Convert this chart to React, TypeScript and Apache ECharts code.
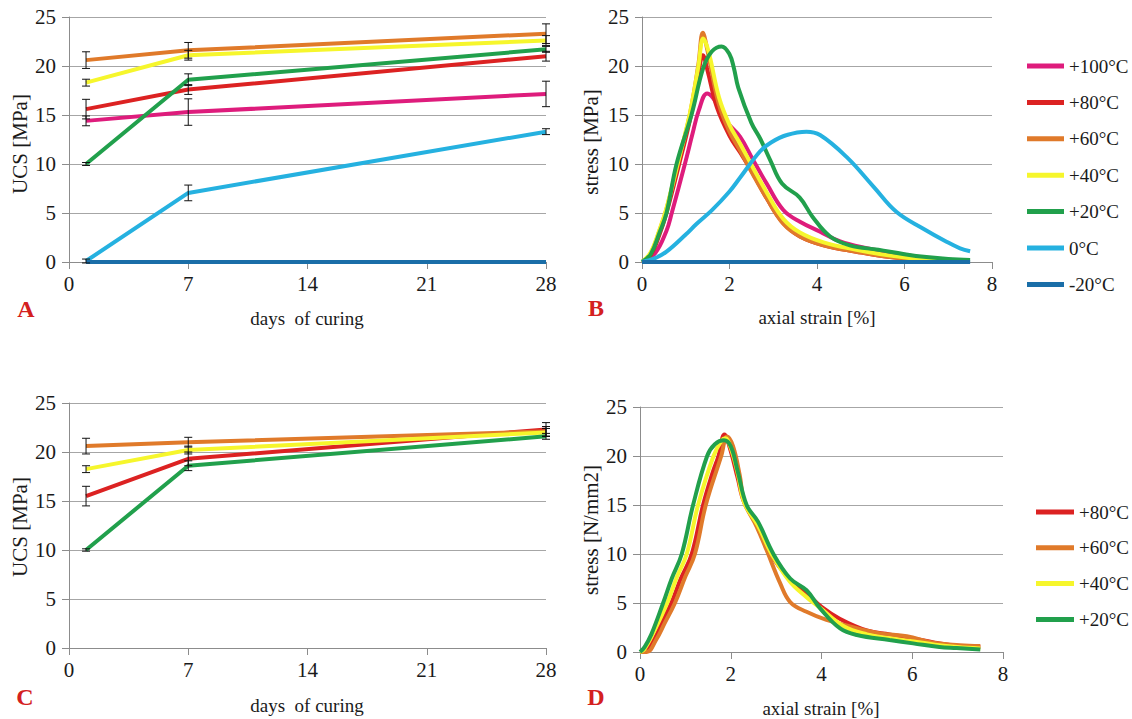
import React, { useEffect, useRef } from "react";
import * as echarts from "echarts";

// ---------- data ----------
const DAYS = [1, 7, 28];
const TEMPS_B = ["+100°C", "+80°C", "+60°C", "+40°C", "+20°C", "0°C", "-20°C"];
const TEMPS_D = ["+80°C", "+60°C", "+40°C", "+20°C"];

// Panel A: UCS vs days of curing (means and error half-widths)
const A_100 = [14.4, 15.3, 17.15];
const A_100_ERR = [0.5, 1.35, 1.3];
const A_80 = [15.6, 17.6, 21.0];
const A_80_ERR = [1.0, 0.5, 0.5];
const A_60 = [20.6, 21.6, 23.3];
const A_60_ERR = [0.85, 0.8, 1.0];
const A_40 = [18.3, 21.1, 22.6];
const A_40_ERR = [0.35, 0.5, 0.5];
const A_20 = [10.0, 18.6, 21.7];
const A_20_ERR = [0.15, 0.6, 0.3];
const A_0 = [0.1, 7.05, 13.3];
const A_0_ERR = [0.2, 0.8, 0.3];
const A_M20 = [0, 0, 0];

// Panel C
const C_80 = [15.5, 19.3, 22.3];
const C_80_ERR = [1.0, 0.7, 0.7];
const C_60 = [20.6, 21.0, 22.1];
const C_60_ERR = [0.8, 0.5, 0.5];
const C_40 = [18.25, 20.2, 22.0];
const C_40_ERR = [0.35, 0.4, 0.4];
const C_20 = [10.0, 18.6, 21.6];
const C_20_ERR = [0.12, 0.5, 0.3];

// Panel B: stress [MPa] vs axial strain [%]
const B_100 = [[0,0],[0.3,0.9],[0.56,3.2],[0.68,5],[0.98,10],[1.15,13],[1.3,15.5],[1.49,17.2],[1.74,16.0],[1.94,14.3],[2.24,12.8],[2.54,10.4],[2.85,8.0],[3.23,5.3],[3.61,4.1],[4.07,3.1],[4.53,2.1],[5.14,1.4],[5.75,0.9],[6.5,0.4],[7.2,0.1]];
const B_80 = [[0,0],[0.2,0.7],[0.4,2.8],[0.56,5],[0.85,10],[1.12,15],[1.3,19.5],[1.39,21.1],[1.5,19.5],[1.71,15.8],[2.01,12.8],[2.24,11.2],[2.54,9.0],[2.85,6.5],[3.23,3.95],[3.61,2.6],[4.15,1.7],[4.9,1.05],[5.67,0.5],[6.5,0.15],[7.0,0.05]];
const B_60 = [[0,0],[0.2,0.9],[0.4,3.2],[0.56,5.4],[0.83,10.2],[1.1,15.2],[1.29,20.2],[1.39,23.4],[1.5,21.5],[1.75,16.2],[2.0,13.3],[2.24,11.4],[2.54,8.9],[2.85,6.5],[3.23,3.9],[3.61,2.6],[4.15,1.7],[4.9,1.05],[5.67,0.5],[6.5,0.15],[7.0,0.05]];
const B_40 = [[0,0],[0.2,1.0],[0.4,3.3],[0.56,5.5],[0.83,10.3],[1.1,15.3],[1.29,20.0],[1.4,22.8],[1.52,21.5],[1.76,16.8],[2.0,14.0],[2.24,12.1],[2.54,9.6],[2.85,7.1],[3.23,4.4],[3.61,3.0],[4.15,2.0],[4.9,1.25],[5.67,0.65],[6.5,0.22],[7.2,0.05]];
const B_20 = [[0,0],[0.2,0.8],[0.4,3.0],[0.56,5.0],[0.79,10],[1.13,15],[1.4,19.8],[1.6,21.5],[1.82,22.0],[2.0,21.2],[2.1,19.8],[2.2,17.8],[2.5,14.2],[2.7,12.6],[2.93,10.4],[3.2,8.0],[3.6,6.6],[3.9,4.6],[4.3,2.6],[4.75,1.7],[5.4,1.25],[6.0,0.8],[6.5,0.5],[7.0,0.3],[7.5,0.2]];
const B_0 = [[0,0],[0.3,0.4],[0.56,1.05],[1.0,2.8],[1.25,3.9],[1.6,5.3],[2.0,7.2],[2.24,8.6],[2.7,11.3],[2.95,12.2],[3.31,12.96],[3.76,13.3],[4.07,12.96],[4.68,10.7],[5.29,7.7],[5.82,5.1],[6.43,3.4],[6.96,2.07],[7.27,1.4],[7.5,1.1]];
const B_M20 = [[0,0],[7.5,0]];

// Panel D: stress [N/mm2] vs axial strain [%]
const D_80 = [[0,0],[0.1,0.1],[0.3,1.2],[0.5,3.2],[0.69,5],[0.9,7.5],[1.14,10],[1.39,15],[1.6,18.3],[1.73,20],[1.86,22.2],[2.0,20.5],[2.15,17.8],[2.3,15.2],[2.6,12.8],[2.85,10.2],[3.3,7.4],[3.67,6.0],[4.0,4.6],[4.4,3.4],[5.0,2.2],[5.5,1.8],[6.0,1.4],[6.5,0.95],[7.0,0.6],[7.5,0.5]];
const D_60 = [[0,0],[0.15,0],[0.35,1.2],[0.55,3.0],[0.77,5],[1.0,7.7],[1.21,10],[1.45,15],[1.79,20],[1.92,22.0],[2.05,21.0],[2.2,18],[2.3,15.3],[2.57,12.8],[2.79,10.4],[3.09,7.0],[3.31,5.1],[3.67,4.1],[4.11,3.27],[4.63,2.6],[5.29,1.9],[5.88,1.6],[6.46,0.95],[7.05,0.7],[7.5,0.6]];
const D_40 = [[0,0],[0.1,0.3],[0.3,2.0],[0.6,5],[0.8,7.5],[1.03,10],[1.28,15],[1.62,20],[1.8,21.6],[1.88,21.8],[2.0,20.8],[2.15,18.3],[2.3,15.2],[2.6,12.9],[2.9,10],[3.3,7.2],[3.67,5.6],[3.97,4.5],[4.5,2.6],[5.0,1.8],[5.5,1.4],[6.0,1.1],[6.5,0.75],[7.0,0.5],[7.5,0.35]];
const D_20 = [[0,0],[0.1,0.5],[0.25,1.8],[0.51,5],[0.7,7.5],[0.92,10],[1.17,15],[1.48,20],[1.65,21.2],[1.85,21.6],[2.0,21.0],[2.15,18.5],[2.35,15],[2.6,13.3],[2.94,10],[3.31,7.5],[3.67,6.3],[3.97,4.45],[4.41,2.4],[4.78,1.73],[5.5,1.22],[6.02,0.88],[6.6,0.5],[6.98,0.4],[7.5,0.25]];

const Y_TICKS = [0, 5, 10, 15, 20, 25];

// ---------- styling ----------
const FONT = "Liberation Serif";
const COLORS: Record<string, string> = {
  "+100°C": "#DE1C7C",
  "+80°C": "#DC2222",
  "+60°C": "#E07A2A",
  "+40°C": "#F6F62C",
  "+20°C": "#21A04C",
  "0°C": "#25B1E0",
  "-20°C": "#1A6EA8",
};
const AXIS_COLOR = "#8c8c8c";
const TEXT_COLOR = "#1a1a1a";

function xAxis(gridIndex: number, max: number, interval: number) {
  return {
    type: "value",
    gridIndex,
    min: 0,
    max,
    interval,
    axisLine: { show: true, onZero: false, lineStyle: { color: AXIS_COLOR, width: 1 } },
    axisTick: { show: true, length: 7, lineStyle: { color: AXIS_COLOR } },
    splitLine: { show: false },
    axisLabel: { fontFamily: FONT, fontSize: 21, color: TEXT_COLOR, margin: 11 },
  };
}
function yAxis(gridIndex: number) {
  return {
    type: "value",
    gridIndex,
    min: Y_TICKS[0],
    max: Y_TICKS[Y_TICKS.length - 1],
    interval: 5,
    axisLine: { show: true, lineStyle: { color: AXIS_COLOR, width: 1 } },
    axisTick: { show: true, length: 7, lineStyle: { color: AXIS_COLOR } },
    splitLine: { show: true, lineStyle: { color: "#a6a6a6", width: 1 } },
    axisLabel: { fontFamily: FONT, fontSize: 21, color: TEXT_COLOR, margin: 13 },
  };
}
function line(name: string, data: number[][], axis: number, smooth: number | boolean) {
  return {
    type: "line",
    name,
    xAxisIndex: axis,
    yAxisIndex: axis,
    data,
    symbol: "none",
    showSymbol: false,
    smooth,
    silent: true,
    lineStyle: { color: COLORS[name], width: 4 },
    itemStyle: { color: COLORS[name] },
  };
}
const zipDays = (vals: number[]) => DAYS.map((d, i) => [d, vals[i]]);
function errSeries(axis: number, rows: number[][]) {
  return {
    type: "custom",
    name: "err" + axis,
    xAxisIndex: axis,
    yAxisIndex: axis,
    z: 10,
    silent: true,
    data: rows,
    encode: { x: 0, y: 1 },
    renderItem: (_p: any, api: any) => {
      const x = api.value(0), y = api.value(1), e = api.value(2);
      const t = api.coord([x, y + e]);
      const b = api.coord([x, y - e]);
      const s = { stroke: "#111", lineWidth: 1 };
      return {
        type: "group",
        children: [
          { type: "line", shape: { x1: t[0], y1: t[1], x2: b[0], y2: b[1] }, style: s },
          { type: "line", shape: { x1: t[0] - 4, y1: t[1], x2: t[0] + 4, y2: t[1] }, style: s },
          { type: "line", shape: { x1: b[0] - 4, y1: b[1], x2: b[0] + 4, y2: b[1] }, style: s },
        ],
      };
    },
  };
}
const errRows = (vals: number[], errs: number[]) => DAYS.map((d, i) => [d, vals[i], errs[i]]);

function txt(text: string, x: number, y: number, size: number, opts: any = {}) {
  return {
    type: "text",
    x,
    y,
    rotation: opts.rotation || 0,
    silent: true,
    style: {
      text,
      fill: opts.color || TEXT_COLOR,
      fontFamily: FONT,
      fontSize: size,
      fontWeight: opts.bold ? "bold" : "normal",
      textAlign: "center",
      textVerticalAlign: "middle",
    },
  };
}

function buildOption() {
  const legendText = { fontFamily: FONT, fontSize: 19, color: TEXT_COLOR, lineHeight: 20 };
  return {
    animation: false,
    backgroundColor: "#ffffff",
    textStyle: { fontFamily: FONT },
    grid: [
      { left: 69, top: 17, width: 477, height: 245 },
      { left: 642, top: 17, width: 350, height: 245 },
      { left: 69, top: 403, width: 477, height: 245 },
      { left: 640, top: 407, width: 363, height: 245 },
    ],
    xAxis: [xAxis(0, 28, 7), xAxis(1, 8, 2), xAxis(2, 28, 7), xAxis(3, 8, 2)],
    yAxis: [yAxis(0), yAxis(1), yAxis(2), yAxis(3)],
    legend: [
      {
        data: TEMPS_B,
        orient: "vertical",
        left: 1027,
        top: 56,
        padding: 0,
        itemGap: 16.4,
        itemWidth: 37,
        itemHeight: 5,
        icon: "rect",
        selectedMode: false,
        textStyle: legendText,
      },
      {
        data: TEMPS_D,
        orient: "vertical",
        left: 1036,
        top: 502,
        padding: 0,
        itemGap: 15.8,
        itemWidth: 38,
        itemHeight: 5,
        icon: "rect",
        selectedMode: false,
        textStyle: legendText,
      },
    ],
    series: [
      // Panel A
      line("+100°C", zipDays(A_100), 0, false),
      line("+80°C", zipDays(A_80), 0, false),
      line("+60°C", zipDays(A_60), 0, false),
      line("+40°C", zipDays(A_40), 0, false),
      line("+20°C", zipDays(A_20), 0, false),
      line("0°C", zipDays(A_0), 0, false),
      line("-20°C", zipDays(A_M20), 0, false),
      errSeries(0, [
        ...errRows(A_100, A_100_ERR),
        ...errRows(A_80, A_80_ERR),
        ...errRows(A_60, A_60_ERR),
        ...errRows(A_40, A_40_ERR),
        ...errRows(A_20, A_20_ERR),
        ...errRows(A_0, A_0_ERR),
      ]),
      // Panel B
      line("+100°C", B_100, 1, 0.4),
      line("+80°C", B_80, 1, 0.4),
      line("+60°C", B_60, 1, 0.4),
      line("+40°C", B_40, 1, 0.4),
      line("+20°C", B_20, 1, 0.4),
      line("0°C", B_0, 1, 0.4),
      line("-20°C", B_M20, 1, false),
      // Panel C
      line("+80°C", zipDays(C_80), 2, false),
      line("+60°C", zipDays(C_60), 2, false),
      line("+40°C", zipDays(C_40), 2, false),
      line("+20°C", zipDays(C_20), 2, false),
      errSeries(2, [
        ...errRows(C_80, C_80_ERR),
        ...errRows(C_60, C_60_ERR),
        ...errRows(C_40, C_40_ERR),
        ...errRows(C_20, C_20_ERR),
      ]),
      // Panel D
      line("+80°C", D_80, 3, 0.4),
      line("+60°C", D_60, 3, 0.4),
      line("+40°C", D_40, 3, 0.4),
      line("+20°C", D_20, 3, 0.4),
    ],
    graphic: [
      txt("A", 26, 309, 24, { bold: true, color: "#D42020" }),
      txt("B", 596, 308, 24, { bold: true, color: "#D42020" }),
      txt("C", 25, 697, 24, { bold: true, color: "#D42020" }),
      txt("D", 596, 697, 24, { bold: true, color: "#D42020" }),
      txt("days  of curing", 307, 318, 19),
      txt("days  of curing", 307, 705, 19),
      txt("axial strain [%]", 817, 317, 19),
      txt("axial strain [%]", 821, 708, 19),
      txt("UCS [MPa]", 20, 144, 21, { rotation: Math.PI / 2 }),
      txt("UCS [MPa]", 20, 527, 21, { rotation: Math.PI / 2 }),
      txt("stress [MPa]", 591, 142, 21, { rotation: Math.PI / 2 }),
      txt("stress [N/mm2]", 591, 530, 21, { rotation: Math.PI / 2 }),
    ],
  };
}

export default function App() {
  const ref = useRef<HTMLDivElement>(null);
  useEffect(() => {
    if (!ref.current) return;
    const chart = echarts.init(ref.current, null, { renderer: "svg" });
    chart.setOption(buildOption() as any);
    return () => chart.dispose();
  }, []);
  return (
    <div
      ref={ref}
      style={{ position: "fixed", left: 0, top: 0, width: 1132, height: 719, background: "#ffffff" }}
    />
  );
}
